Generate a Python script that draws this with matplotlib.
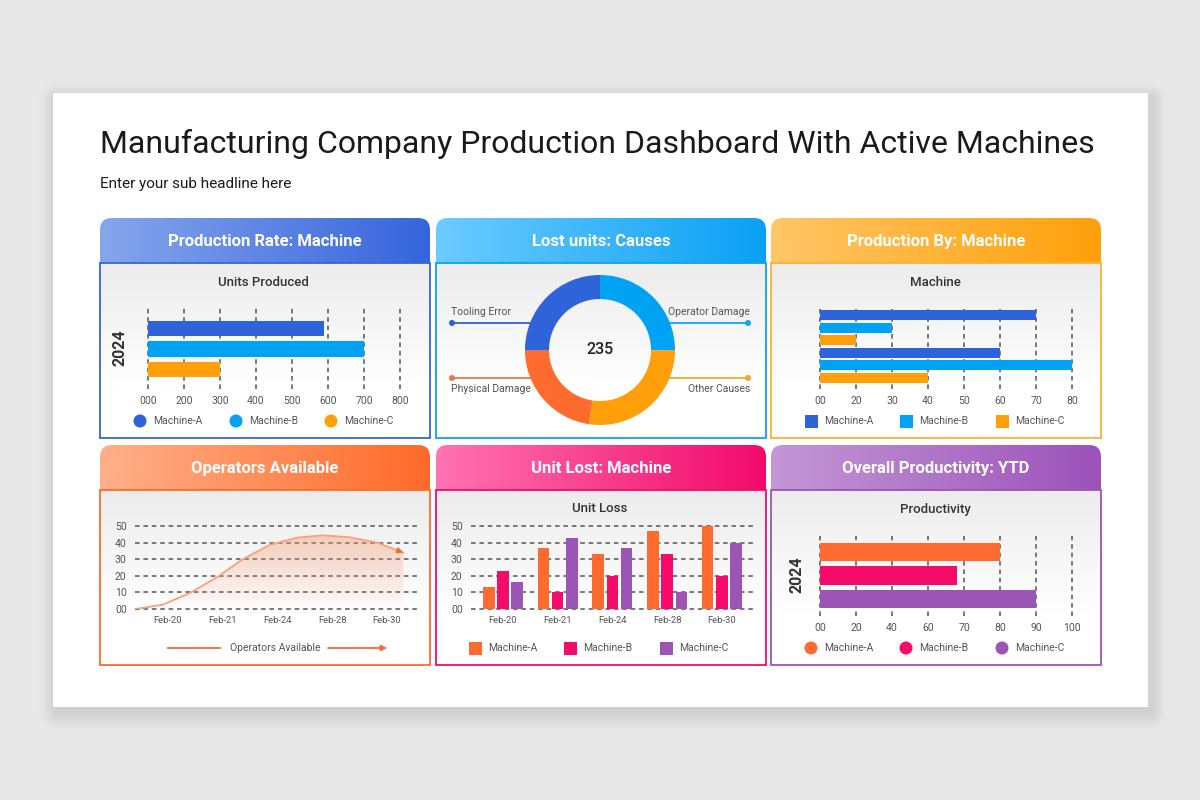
import numpy as np
import matplotlib.pyplot as plt
from matplotlib.patches import FancyBboxPatch, Rectangle, Circle, Polygon
from matplotlib.colors import to_rgb

plt.rcParams['font.family'] = ['Roboto', 'DejaVu Sans']

# ---- data ----
machines = ["Machine-A", "Machine-B", "Machine-C"]

units_ticks = [0, 200, 300, 400, 500, 600, 700, 800]
units_labels = ["000", "200", "300", "400", "500", "600", "700", "800"]
units_vals = [590, 700, 300]

causes = ["Operator Damage", "Other Causes", "Physical Damage", "Tooling Error"]
cause_vals = [59, 64, 53, 59]

machine_ticks = [0, 20, 30, 40, 50, 60, 70, 80]
machine_labels = ["00", "20", "30", "40", "50", "60", "70", "80"]
machine_group1 = [70, 30, 20]
machine_group2 = [60, 80, 40]

dates = ["Feb-20", "Feb-21", "Feb-24", "Feb-28", "Feb-30"]
y_labels = ["00", "10", "20", "30", "40", "50"]

# operators curve, x measured in date-slot units
op_x = [-0.585, -0.09, 0.40, 0.90, 1.37, 1.86, 2.36, 2.83, 3.33, 3.82, 4.30]
op_y = [0, 2.6, 9.6, 19.2, 30, 38.6, 43, 44.4, 43.2, 40, 34]

loss_a = [13, 37, 33, 47, 50]
loss_b = [23, 10, 20, 33, 20]
loss_c = [16, 43, 37, 10, 40]

prod_ticks = [0, 20, 40, 60, 70, 80, 90, 100]
prod_labels = ["00", "20", "40", "60", "70", "80", "90", "100"]
prod_vals = [80, 68, 90]

# colours
blue, sky, amber = '#2f63d9', '#00a2f4', '#ffa00a'
orange, pink, purple = '#ff6b2e', '#f50c6b', '#9b55b5'
tick_col = '#555555'

fig = plt.figure(figsize=(12, 8), dpi=100)
fig.patch.set_facecolor('#e9e8e9')
bg = fig.add_axes([0, 0, 1, 1])
bg.axis('off')


def px_axes(x0, y0, x1, y1):
    return fig.add_axes([x0 / 1200, 1 - y1 / 800, (x1 - x0) / 1200, (y1 - y0) / 800],
                        facecolor='none')


# card with a soft shadow
yy, xx = np.mgrid[0:800, 0:1200] + 0.5
dx = np.maximum(np.maximum(56 - xx, xx - 1151), 0)
dy = np.maximum(np.maximum(99 - yy, yy - 713), 0)
shadow = np.zeros((800, 1200, 4))
shadow[..., 3] = 0.10 * np.exp(-(np.hypot(dx, dy) / 10) ** 2)
bg.imshow(shadow, extent=(0, 1200, 800, 0), aspect='auto', zorder=0)
bg.add_patch(Rectangle((53, 93), 1095, 614, fc='white', ec='none', zorder=1))

bg.text(100, 153, "Manufacturing Company Production Dashboard With Active Machines",
        fontsize=23, color='#1a1a1a', va='baseline', ha='left', zorder=5)
bg.text(100, 188, "Enter your sub headline here", fontsize=11, color='#1a1a1a',
        va='baseline', ha='left', zorder=5)

# panel frames
panels = [
    (100, 218, 438, "Production Rate: Machine", '#86a6ec', '#3565dc', '#3565dc'),
    (436, 218, 438, "Lost units: Causes", '#6ccbff', '#0aa1f5', '#0aa1f5'),
    (771, 218, 438, "Production By: Machine", '#ffc767', '#ffa00a', '#ffb02e'),
    (100, 445, 665, "Operators Available", '#ffb08a', '#ff6a28', '#ff6a28'),
    (436, 445, 665, "Unit Lost: Machine", '#ff74b2', '#f20a6a', '#f20a6a'),
    (771, 445, 665, "Overall Productivity: YTD", '#c497d6', '#9c52b9', '#9c52b9'),
]
pw, hh = 330, 45
for x0, y0, yb, title, c1, c2, edge in panels:
    grad = np.linspace(to_rgb(c1), to_rgb(c2), 256)[None, :, :]
    clip = FancyBboxPatch((x0, y0), pw, hh + 20, boxstyle="round,pad=0,rounding_size=12",
                          fc='none', ec='none', zorder=2)
    bg.add_patch(clip)
    im = bg.imshow(grad, extent=(x0, x0 + pw, y0 + hh + 20, y0), aspect='auto', zorder=2)
    im.set_clip_path(clip)
    # body gradient
    t = np.linspace(0, 1, 256)
    g = np.clip(t / 0.7, 0, 1)
    body = np.array([0.925, 0.925, 0.925])[None, :] * (1 - g)[:, None] + g[:, None]
    bg.imshow(body[:, None, :], extent=(x0, x0 + pw, yb, y0 + hh), aspect='auto', zorder=3)
    bg.add_patch(Rectangle((x0, y0 + hh), pw, yb - y0 - hh, fill=False, ec=edge, lw=1.3, zorder=4))
    bg.text(x0 + pw / 2, y0 + hh / 2 + 1, title, fontsize=12, fontweight='bold', color='white',
            ha='center', va='center', zorder=5)

bg.set_xlim(0, 1200)
bg.set_ylim(800, 0)


def style_axes(ax):
    for s in ax.spines.values():
        s.set_visible(False)
    ax.tick_params(length=0, pad=5, labelsize=7.5, labelcolor=tick_col)


def hbar_panel(rect, ticks, labels, vals, colors, ylim, height):
    ax = px_axes(*rect)
    pos = np.interp(vals, ticks, np.arange(len(ticks)))
    ax.barh(np.arange(len(vals)), pos, height=height, color=colors, zorder=3)
    ax.set_xlim(0, len(ticks) - 1)
    ax.set_ylim(*ylim)
    ax.set_xticks(np.arange(len(ticks)), labels)
    ax.set_yticks([])
    ax.grid(axis='x', ls=(0, (3, 2.5)), color='#555555', lw=1.1, zorder=1)
    for ln in ax.get_xgridlines():
        ln.set_clip_on(False)
    style_axes(ax)
    return ax


def legend_row(xs, y, colors, shape):
    for x, c, name in zip(xs, colors, machines):
        if shape == 'circle':
            bg.add_patch(Circle((x, y), 6.5, fc=c, ec='none', zorder=5))
        else:
            bg.add_patch(Rectangle((x - 6.5, y - 6.5), 13, 13, fc=c, ec='none', zorder=5))
        bg.text(x + 13, y, name, fontsize=7.5, color=tick_col, va='center', ha='left', zorder=5)


def chart_title(x, y, s):
    bg.text(x, y, s, fontsize=9.5, fontweight='medium', color='#333333',
            ha='center', va='center', zorder=5)


# 1. production rate
chart_title(263, 282, "Units Produced")
hbar_panel((148, 308, 400, 389), units_ticks, units_labels, units_vals,
           [blue, sky, amber], (2.95, -1.0), 0.75)
bg.text(120, 348, "2024", rotation=90, fontsize=11.5, fontweight='bold', color='#333333',
        ha='center', va='center', zorder=5)
legend_row([140, 236, 331], 421, [blue, sky, amber], 'circle')

# 2. lost units donut
ax = px_axes(525, 275, 675, 425)
ax.pie(cause_vals, colors=[sky, amber, orange, blue], startangle=90, counterclock=False,
       radius=1, wedgeprops=dict(width=0.32, edgecolor='none'))
ax.set_xlim(-1, 1)
ax.set_ylim(-1, 1)
ax.set_aspect('equal')
ax.text(0, 0, f"{sum(cause_vals)}", fontsize=11.5, fontweight='medium', color='#222222',
        ha='center', va='center')
leaders = [("Tooling Error", 323, 312, 'left', '#3060d8'),
           ("Operator Damage", 323, 312, 'right', '#10a5f5'),
           ("Physical Damage", 378, 389, 'left', '#e07a4a'),
           ("Other Causes", 378, 389, 'right', '#f0a830')]
for name, ly, ty, side, c in leaders:
    if side == 'left':
        bg.plot([452, 540], [ly, ly], color=c, lw=1.3, zorder=5)
        bg.add_patch(Circle((452, ly), 3, fc=c, ec='none', zorder=5))
        bg.text(451, ty, name, fontsize=7.5, color=tick_col, ha='left', va='center', zorder=5)
    else:
        bg.plot([660, 748], [ly, ly], color=c, lw=1.3, zorder=5)
        bg.add_patch(Circle((748, ly), 3, fc=c, ec='none', zorder=5))
        bg.text(750, ty, name, fontsize=7.5, color=tick_col, ha='right', va='center', zorder=5)

# 3. production by machine
chart_title(935, 282, "Machine")
hbar_panel((820, 309, 1072, 389), machine_ticks, machine_labels,
           machine_group1 + machine_group2, [blue, sky, amber] * 2, (5.92, -0.48), 0.8)
legend_row([811, 906, 1002], 421, [blue, sky, amber], 'square')


def hgrid_axes(rect, xlim):
    ax = px_axes(*rect)
    ax.set_xlim(*xlim)
    ax.set_ylim(0, 50)
    ax.set_yticks(np.arange(0, 51, 10), y_labels)
    ax.set_xticks(np.arange(len(dates)), dates)
    ax.grid(axis='y', ls=(0, (3, 2.5)), color='#555555', lw=1.1, zorder=1)
    for ln in ax.get_ygridlines():
        ln.set_clip_on(False)
    style_axes(ax)
    ax.tick_params(axis='y', pad=6, labelsize=7.5)
    ax.tick_params(axis='x', pad=5, labelsize=6.8)
    return ax


# 4. operators available
ax = hgrid_axes((135, 526, 420, 609), (-0.6, 4.607))
verts = list(zip(op_x, op_y)) + [(op_x[-1], 0), (op_x[0], 0)]
poly = Polygon(verts, closed=True, fc='none', ec='none', transform=ax.transData)
ax.add_patch(poly)
tt = np.linspace(1, 0, 128)
fill = np.zeros((128, 1, 4))
fill[..., :3] = to_rgb('#f59a70')
fill[:, 0, 3] = 0.02 + 0.42 * tt
gim = ax.imshow(fill, extent=(op_x[0], op_x[-1], 0, 45), aspect='auto', zorder=2)
gim.set_clip_path(poly)
ax.plot(op_x, op_y, color='#f6a27c', lw=1.3, zorder=3)
tip = np.array([op_x[-1], op_y[-1]])
prev = np.array([op_x[-2], op_y[-2]])
ax.annotate('', xy=tip, xytext=tip - 0.12 * (tip - prev),
            arrowprops=dict(arrowstyle='-|>', color='#f26b35', lw=1, mutation_scale=9,
                            shrinkA=0, shrinkB=0), zorder=4)
ax.set_xlim(-0.6, 4.607)
ax.set_ylim(0, 50)
bg.plot([168, 220], [648, 648], color='#f26b35', lw=1.3, zorder=5)
bg.text(275, 648, "Operators Available", fontsize=7.5, color=tick_col, ha='center',
        va='center', zorder=5)
bg.annotate('', xy=(387, 648), xytext=(328, 648),
            arrowprops=dict(arrowstyle='-|>', color='#f26b35', lw=1.3, mutation_scale=8,
                            shrinkA=0, shrinkB=0), zorder=5)

# 5. unit lost by machine
chart_title(600, 509, "Unit Loss")
ax = hgrid_axes((471, 526, 755, 609), (-0.585, 4.607))
xs = np.arange(len(dates))
for off, vals, c in zip([-0.26, 0, 0.26], [loss_a, loss_b, loss_c], [orange, pink, purple]):
    ax.bar(xs + off, vals, width=0.21, color=c, zorder=3)
legend_row([475, 570, 666], 648, [orange, pink, purple], 'square')

# 6. overall productivity
chart_title(935, 509, "Productivity")
hbar_panel((820, 536, 1072, 616), prod_ticks, prod_labels, prod_vals,
           [orange, pink, purple], (2.72, -0.68), 0.79)
bg.text(797, 575, "2024", rotation=90, fontsize=11.5, fontweight='bold', color='#333333',
        ha='center', va='center', zorder=5)
legend_row([811, 906, 1002], 648, [orange, pink, purple], 'circle')

fig.savefig("out.png", dpi=100, facecolor=fig.get_facecolor())
